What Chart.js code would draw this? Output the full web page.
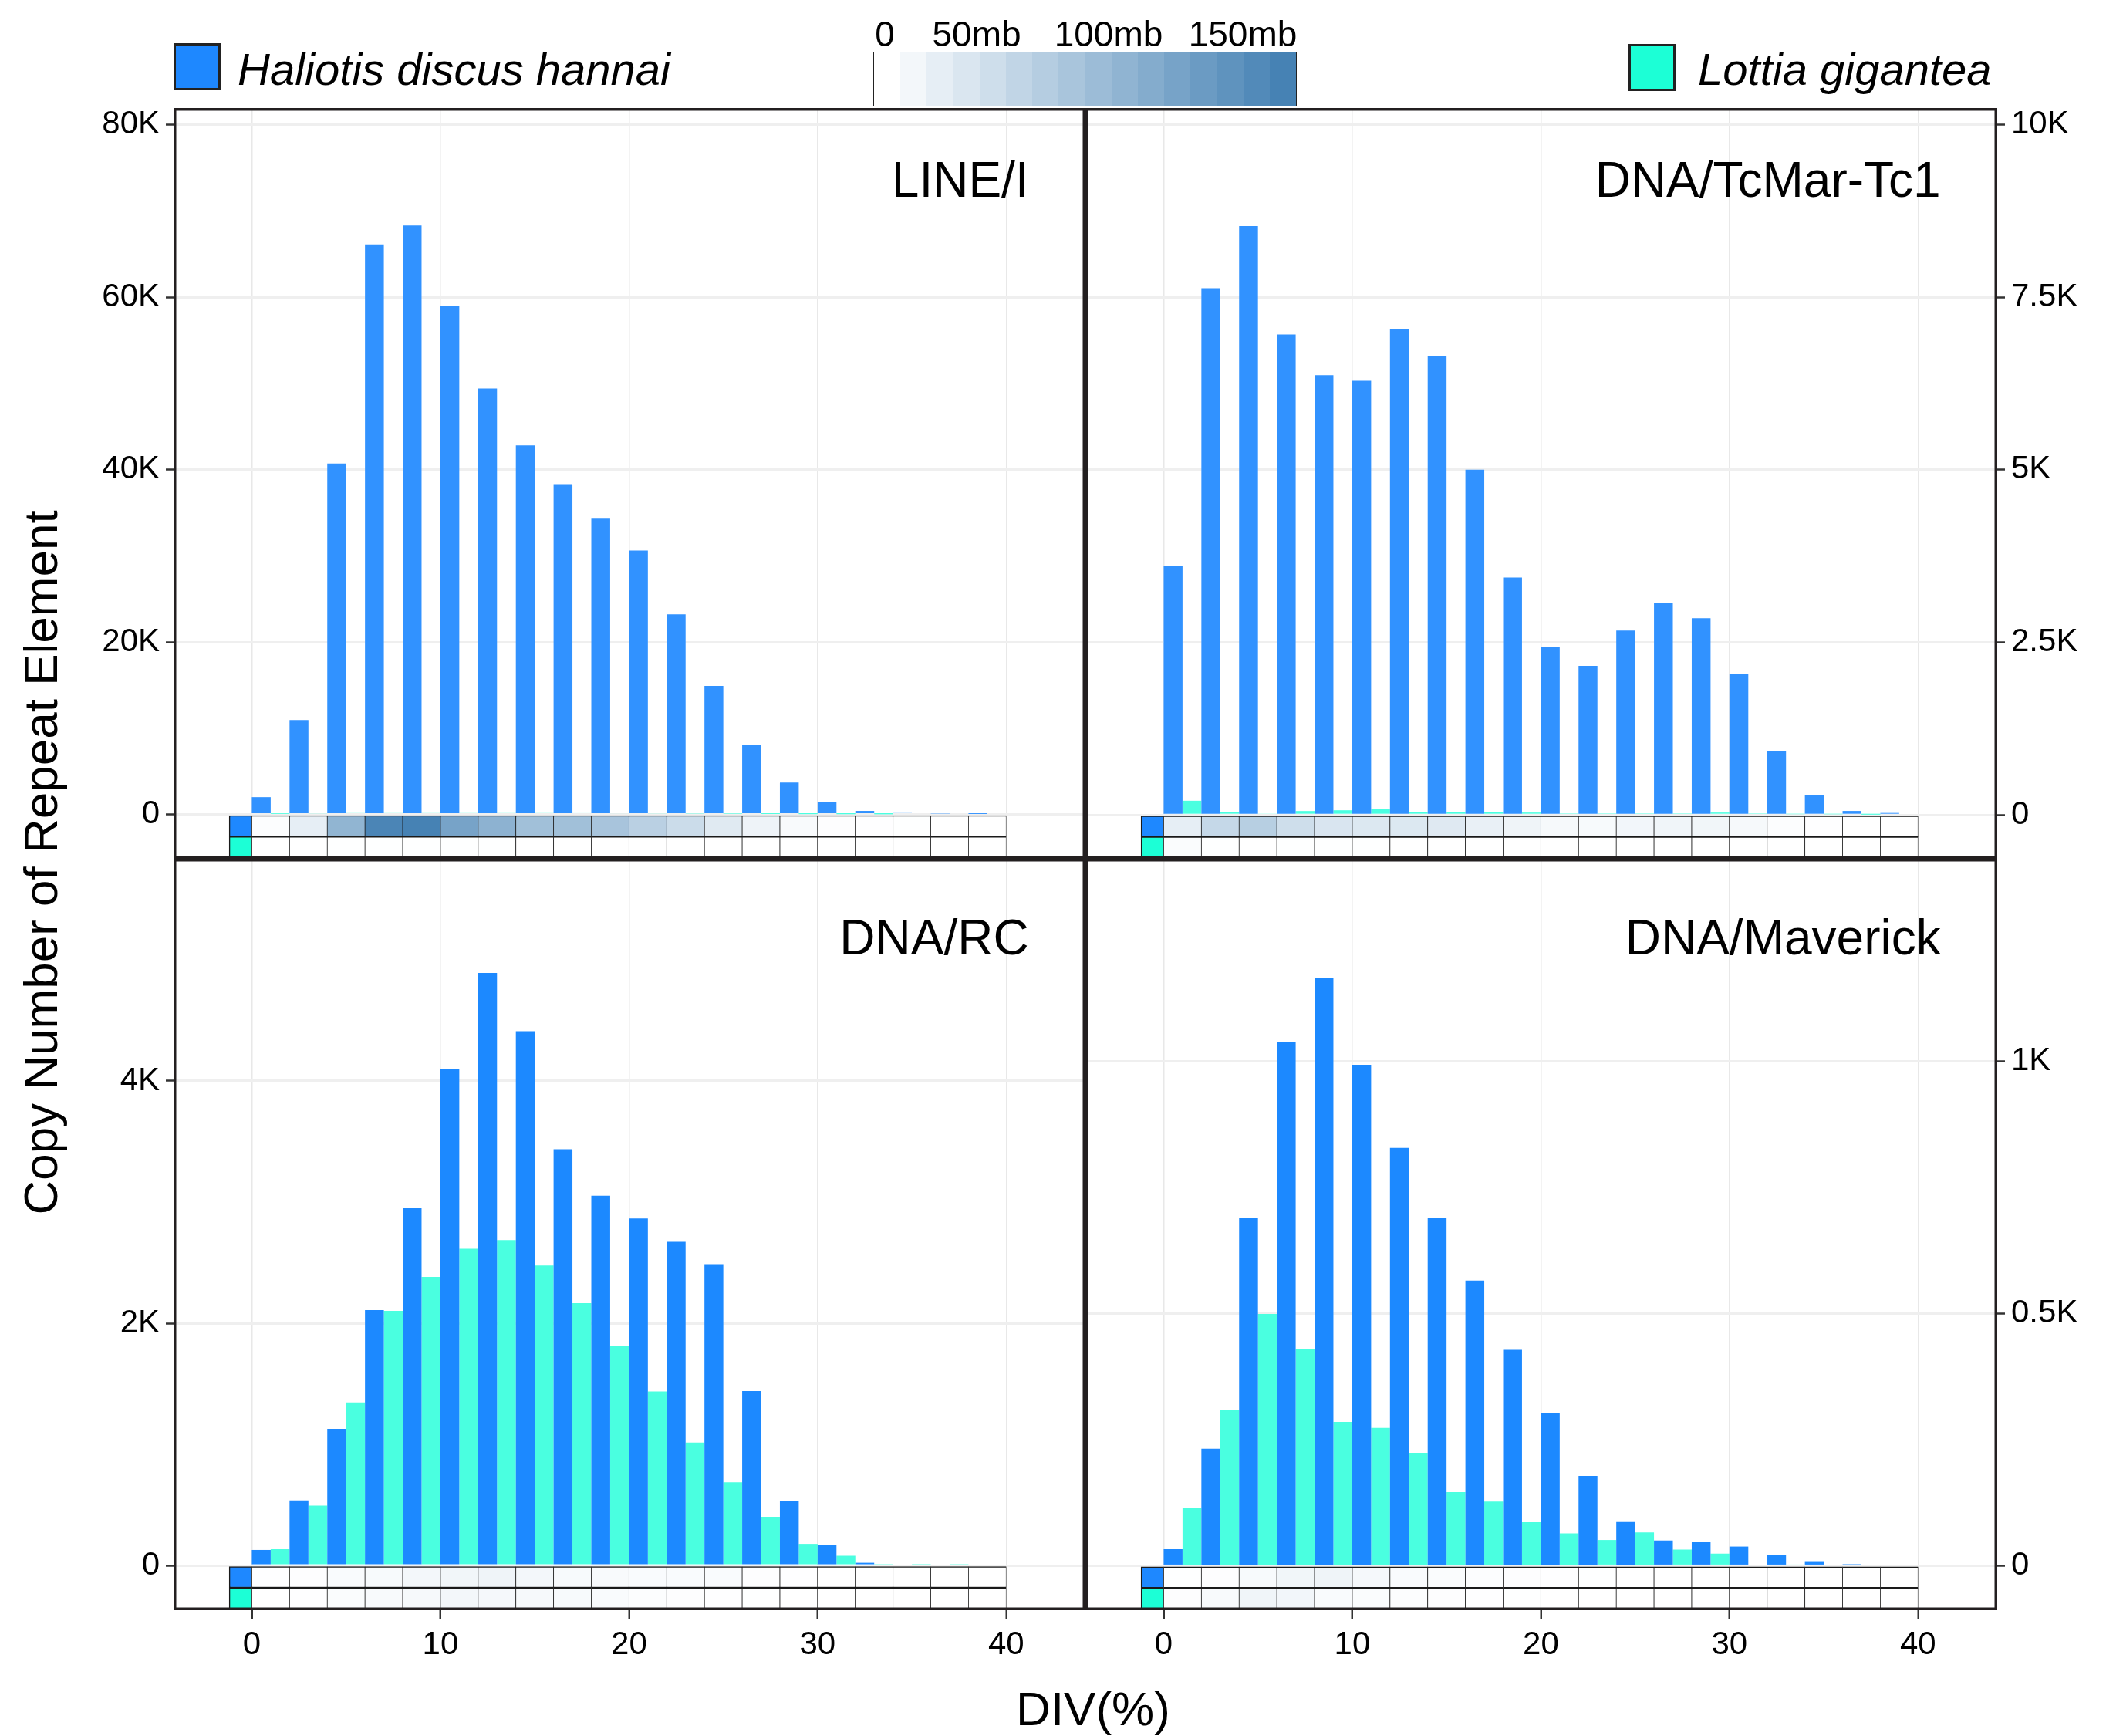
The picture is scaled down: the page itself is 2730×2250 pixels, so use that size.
<!DOCTYPE html>
<html>
<head>
<meta charset="utf-8">
<script src="https://cdn.jsdelivr.net/npm/chart.js@4.4.1/dist/chart.umd.min.js"></script>
<style>
html, body { margin: 0; padding: 0; background: #fff; }
#fig { position: relative; width: 2730px; height: 2250px; overflow: hidden;
       font-family: "Liberation Sans", Arial, sans-serif; color: #000; }
#fig canvas { position: absolute; left: 0; top: 0; }
.txt { position: absolute; white-space: nowrap; line-height: 1; }
.sq { position: absolute; box-sizing: border-box; border: 3px solid #222; }
#key { position: absolute; left: 1132px; top: 67px; width: 549px; height: 71px;
       box-sizing: border-box; border: 1.5px solid #222; display: flex; }
#key div { flex: 1; }
</style>
</head>
<body>
<div id="fig">
  <div class="sq" style="left:225px;top:56px;width:61px;height:61px;background:#1e88ff"></div>
  <div class="txt" style="left:308px;top:61px;font-size:58px;font-style:italic">Haliotis discus hannai</div>
  <div class="sq" style="left:2111px;top:57px;width:61px;height:61px;background:#1cffd6"></div>
  <div class="txt" style="left:2201px;top:61px;font-size:58px;font-style:italic">Lottia gigantea</div>
  <div id="key"></div>
  <div class="txt" style="left:53px;top:1118px;font-size:62px;transform:translate(-50%,-50%) rotate(-90deg)">Copy Number of Repeat Element</div>
  <div class="txt" style="left:1417px;top:2184px;font-size:62px;transform:translateX(-50%)">DIV(%)</div>
  <canvas id="cTL" width="2730" height="2250"></canvas>
  <canvas id="cTR" width="2730" height="2250"></canvas>
  <canvas id="cBL" width="2730" height="2250"></canvas>
  <canvas id="cBR" width="2730" height="2250"></canvas>
</div>
<script>
// divergence bins (left edge, %), 2% wide
const divBins = [0, 2, 4, 6, 8, 10, 12, 14, 16, 18, 20, 22, 24, 26, 28, 30, 32, 34, 36, 38];
const xTicks = [0, 10, 20, 30, 40];

// copy numbers per bin: hdh = Haliotis discus hannai, lgi = Lottia gigantea
const lineI_hdh = [2000, 10950, 40700, 66100, 68300, 59000, 49400, 42800, 38300, 34300, 30600, 23200, 14900, 8000, 3700, 1400, 400, 150, 100, 50];
const lineI_lgi = [60, 120, 150, 150, 150, 150, 150, 150, 140, 130, 120, 100, 80, 50, 30, 20, 10, 0, 0, 0];
const tcmar_hdh = [3600, 7630, 8530, 6960, 6370, 6290, 7040, 6650, 5000, 3440, 2430, 2160, 2670, 3070, 2850, 2040, 920, 285, 57, 28];
const tcmar_lgi = [205, 45, 19, 56, 67, 89, 45, 45, 45, 34, 22, 22, 22, 22, 34, 22, 11, 10, 4, 0];
const rc_hdh = [128, 537, 1128, 2109, 2949, 4098, 4891, 4411, 3436, 3052, 2864, 2672, 2487, 1440, 530, 168, 22, 0, 0, 0];
const rc_lgi = [135, 494, 1345, 2102, 2383, 2615, 2686, 2476, 2166, 1814, 1437, 1014, 687, 402, 178, 80, 12, 5, 12, 0];
const mav_hdh = [34, 232, 689, 1037, 1165, 993, 828, 689, 565, 428, 302, 178, 88, 50, 47, 38, 21, 9, 3, 0];
const mav_lgi = [114, 308, 499, 430, 285, 273, 224, 146, 127, 87, 64, 51, 66, 32, 24, 0, 2, 0, 0, 0];

// total length per bin (mb), shown as the strip under each panel
const lineI_hdhMb = [3, 22, 95, 156, 160, 118, 99, 81, 81, 75, 60, 45, 27, 15, 6, 2, 1, 0.5, 0.3, 0.2];
const lineI_lgiMb = [0.3, 0.4, 0.5, 0.5, 0.5, 0.5, 0.5, 0.4, 0.4, 0.3, 0.3, 0.2, 0.2, 0.1, 0.1, 0, 0, 0, 0, 0];
const tcmar_hdhMb = [22, 50, 62, 42, 33, 30, 30, 28, 19, 14, 8, 7, 11, 13, 12, 8, 3, 1, 0.3, 0.3];
const tcmar_lgiMb = [4, 0.5, 0.3, 0.5, 0.5, 0.6, 0.4, 0.3, 0.3, 0.2, 0.1, 0.1, 0.1, 0.1, 0.2, 0.1, 0, 0, 0, 0];
const rc_hdhMb = [1, 2, 5, 7, 10, 12, 14, 10, 7, 6, 5, 5, 5, 2, 1, 0.3, 0.1, 0, 0, 0];
const rc_lgiMb = [0.3, 1, 4, 6, 8, 10, 9, 8, 7, 5, 3, 2, 1, 0.5, 0.3, 0.1, 0, 0, 0, 0];
const mav_hdhMb = [0.5, 2, 7, 12, 14, 9, 5, 4, 3, 2, 1, 0.5, 0.3, 0.2, 0.2, 0.1, 0.1, 0, 0, 0];
const mav_lgiMb = [2, 6, 13, 11, 5, 4, 3, 2, 1, 0.5, 0.3, 0.2, 0.2, 0.1, 0.1, 0, 0, 0, 0, 0];

// y ticks and limits per panel
const lineI_yTicks = [0, 20000, 40000, 60000, 80000];
const tcmar_yTicks = [0, 2500, 5000, 7500, 10000];
const rc_yTicks = [0, 2000, 4000];
const mav_yTicks = [0, 500, 1000];
const lineI_yLim = [-5145, 81924];
const tcmar_yLim = [-635, 10240];
const rc_yLim = [-369, 5834];
const mav_yLim = [-88, 1401];

const heatMax = 160;               // mb at the dark end of the key
const keyLabels = ['0', '50mb', '100mb', '150mb'];
const keyLabelX = [1147, 1266, 1437, 1611];
const keySteps = 16;

const FONT = '"Liberation Sans", Arial, sans-serif';
Chart.defaults.font.family = FONT;

const W = 2730, H = 2250;
const frame = { left: 225, mid: 1407, right: 2589, top: 140, middle: 1113, bottom: 2087 };
const xMin = -4.15, xMax = 44.2;
const labelX = 41.2;
const hdhCol = '#1e88ff', lgiCol = '#1cffd6';

function mix(t) {
  const lo = [255, 255, 255], hi = [70, 130, 180];
  const c = lo.map((v, k) => Math.round(v + (hi[k] - v) * t));
  return `rgb(${c[0]},${c[1]},${c[2]})`;
}
const cellColor = mb => mix(Math.min(1, mb / heatMax));

// colour key
const key = document.getElementById('key');
for (let i = 0; i < keySteps; i++) {
  const d = document.createElement('div');
  d.style.background = mix(i / (keySteps - 1));
  key.appendChild(d);
}
keyLabels.forEach((t, i) => {
  const d = document.createElement('div');
  d.className = 'txt';
  d.textContent = t;
  d.style.cssText = `left:${keyLabelX[i]}px;top:21px;font-size:46px;transform:translateX(-50%)`;
  document.getElementById('fig').appendChild(d);
});

const kLabel = v => (v === 0 ? '0' : v / 1000 + 'K');

const panelDecor = {
  id: 'panelDecor',
  afterDatasetsDraw(chart, args, opts) {
    const { ctx, chartArea: a } = chart;
    ctx.save();
    ctx.font = '64px ' + FONT;
    ctx.fillStyle = '#000';
    ctx.textAlign = 'right';
    ctx.textBaseline = 'alphabetic';
    ctx.fillText(opts.label, chart.scales.x.getPixelForValue(labelX), a.top + opts.drop);
    ctx.lineWidth = 3.5;
    ctx.strokeStyle = '#231f20';
    ctx.strokeRect(a.left + 1.75, a.top + 1.75, a.right - a.left - 3.5, a.bottom - a.top - 3.5);
    ctx.restore();
  }
};

const panels = [
  { id: 'cTL', name: 'LINE/I', row: 0, col: 0, hdh: lineI_hdh, lgi: lineI_lgi, hdhMb: lineI_hdhMb, lgiMb: lineI_lgiMb, yTicks: lineI_yTicks, yLim: lineI_yLim },
  { id: 'cTR', name: 'DNA/TcMar-Tc1', row: 0, col: 1, hdh: tcmar_hdh, lgi: tcmar_lgi, hdhMb: tcmar_hdhMb, lgiMb: tcmar_lgiMb, yTicks: tcmar_yTicks, yLim: tcmar_yLim },
  { id: 'cBL', name: 'DNA/RC', row: 1, col: 0, hdh: rc_hdh, lgi: rc_lgi, hdhMb: rc_hdhMb, lgiMb: rc_lgiMb, yTicks: rc_yTicks, yLim: rc_yLim },
  { id: 'cBR', name: 'DNA/Maverick', row: 1, col: 1, hdh: mav_hdh, lgi: mav_lgi, hdhMb: mav_hdhMb, lgiMb: mav_lgiMb, yTicks: mav_yTicks, yLim: mav_yLim },
];

// hidden x scales share the visible one's range; each gives its own bar width
function hiddenX(ticks) {
  return {
    type: 'linear', display: false, min: xMin, max: xMax, offset: false,
    grid: { offset: false },
    afterBuildTicks: s => { s.ticks = ticks.map(v => ({ value: v })); },
  };
}

panels.forEach(p => {
  const left = p.col === 0, top = p.row === 0;
  const area = {
    left: left ? frame.left : frame.mid,
    right: left ? frame.mid : frame.right,
    top: top ? frame.top : frame.middle,
    bottom: top ? frame.middle : frame.bottom,
  };
  const h = -p.yLim[0] / 2;   // height of one strip row
  const cells = [], cellCols = [];
  divBins.forEach((b, i) => { cells.push({ x: b + 1, y: [-h, 0] }); cellCols.push(cellColor(p.hdhMb[i])); });
  divBins.forEach((b, i) => { cells.push({ x: b + 1, y: [-2 * h, -h] }); cellCols.push(cellColor(p.lgiMb[i])); });

  new Chart(document.getElementById(p.id), {
    type: 'bar',
    data: {
      datasets: [
        {
          label: 'Haliotis discus hannai', xAxisID: 'x', grouped: false,
          data: divBins.map((b, i) => ({ x: b + 0.5, y: p.hdh[i] })),
          backgroundColor: top ? '#3192ff' : '#1c89ff',
          barPercentage: 0.5, categoryPercentage: 1,
        },
        {
          label: 'Lottia gigantea', xAxisID: 'xl', grouped: false,
          data: divBins.map((b, i) => ({ x: b + 1.5, y: p.lgi[i] })),
          backgroundColor: '#4affe0',
          barPercentage: 0.5, categoryPercentage: 1,
        },
        {
          label: 'mb', xAxisID: 'xh', grouped: false, data: cells,
          backgroundColor: cellCols, borderColor: '#1a1a1a',
          borderWidth: { top: 1.5, bottom: 1.5, left: 0.75, right: 0.75 }, borderSkipped: false,
          barPercentage: 1, categoryPercentage: 1,
        },
        {
          label: 'species', xAxisID: 'xs', grouped: false,
          data: [{ x: -0.6, y: [-h, 0] }, { x: -0.6, y: [-2 * h, -h] }],
          backgroundColor: [hdhCol, lgiCol], borderColor: '#1a1a1a', borderWidth: 1.5, borderSkipped: false,
          barPercentage: 1, categoryPercentage: 1,
        },
      ],
    },
    options: {
      responsive: false, animation: false, devicePixelRatio: 1, events: [],
      layout: {
        autoPadding: false,
        // axes fill the space outside the panel on their own side
        padding: { left: left ? 0 : area.left, right: left ? W - area.right : 0, top: area.top, bottom: top ? H - area.bottom : 0 },
      },
      plugins: {
        legend: { display: false }, tooltip: { enabled: false },
        panelDecor: { label: p.name, drop: top ? 115 : 124 },
      },
      scales: {
        x: {
          type: 'linear', position: 'bottom', min: xMin, max: xMax, offset: false,
          afterBuildTicks: s => { s.ticks = xTicks.map(v => ({ value: v })); },
          afterFit: s => { s.height = top ? 0 : H - area.bottom; s.paddingLeft = 0; s.paddingRight = 0; },
          ticks: { display: !top, font: { size: 42 }, color: '#000', padding: 9, autoSkip: false, maxRotation: 0 },
          grid: { offset: false, color: '#e8e8e8', lineWidth: 1.5, drawTicks: !top, tickColor: '#333', tickWidth: 2.5, tickLength: 11 },
          border: { display: false },
        },
        xl: hiddenX(xTicks),
        xh: hiddenX(xTicks),
        xs: hiddenX([-1.2, 0]),
        y: {
          type: 'linear', position: left ? 'left' : 'right', min: p.yLim[0], max: p.yLim[1],
          afterBuildTicks: s => { s.ticks = p.yTicks.map(v => ({ value: v })); },
          afterFit: s => { s.width = left ? area.left : W - area.right; s.paddingTop = 0; s.paddingBottom = 0; },
          ticks: { callback: v => kLabel(v), font: { size: 42 }, color: '#000', padding: 8, autoSkip: false },
          grid: { color: '#efefef', lineWidth: 3, tickColor: '#333', tickWidth: 2.5, tickLength: 10 },
          border: { display: false },
        },
      },
    },
    plugins: [panelDecor],
  });
});
</script>
</body>
</html>
